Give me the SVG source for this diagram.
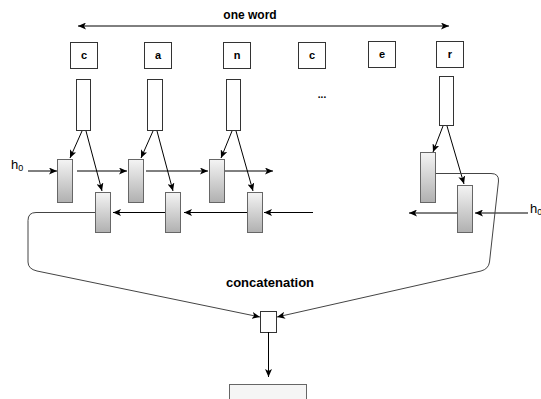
<svg xmlns="http://www.w3.org/2000/svg" width="541" height="399" viewBox="0 0 541 399">
<style>
.box{fill:#fff;stroke:#333;stroke-width:1}
.cell{fill:url(#g);stroke:#666;stroke-width:1}
.lbl{font-family:"Liberation Sans",Arial,sans-serif;font-weight:bold;fill:#000;text-anchor:middle}
.h{font-family:"Liberation Sans",Arial,sans-serif;font-size:13px;fill:#000}
.ar{fill:none;stroke:#000;stroke-width:1;marker-end:url(#a)}
.cv{fill:none;stroke:#444;stroke-width:1;marker-end:url(#a)}
</style>
<defs>
<linearGradient id="g" x1="0" y1="0" x2="0" y2="1">
<stop offset="0" stop-color="#f4f4f4"/>
<stop offset="1" stop-color="#b0b0b0"/>
</linearGradient>
<marker id="a" viewBox="0 0 8 7" refX="8" refY="3.5" markerWidth="8" markerHeight="7" markerUnits="userSpaceOnUse" orient="auto-start-reverse">
<path d="M0,0 L8,3.5 L0,7 L2,3.5 z" fill="#000"/>
</marker>
</defs>
<rect width="541" height="399" fill="#fff"/>

<g id="span">
<line x1="78" y1="26" x2="449" y2="26" stroke="#000" stroke-width="1" marker-start="url(#a)" marker-end="url(#a)"/>
<text class="lbl" x="250" y="19" font-size="12">one word</text>
</g>

<g id="char-c1"><rect class="box" x="70.5" y="42.5" width="27" height="26"/><text class="lbl" x="84" y="59" font-size="11">c</text></g>
<g id="char-a"><rect class="box" x="144.5" y="42.5" width="27" height="26"/><text class="lbl" x="158" y="59" font-size="11">a</text></g>
<g id="char-n"><rect class="box" x="223.5" y="42.5" width="27" height="26"/><text class="lbl" x="237" y="59" font-size="11">n</text></g>
<g id="char-c2"><rect class="box" x="298.5" y="42.5" width="27" height="26"/><text class="lbl" x="312" y="59" font-size="11">c</text></g>
<g id="char-e"><rect class="box" x="368.5" y="41.5" width="27" height="26"/><text class="lbl" x="382" y="58" font-size="11">e</text></g>
<g id="char-r"><rect class="box" x="436.5" y="41.5" width="27" height="26"/><text class="lbl" x="450" y="58" font-size="11">r</text></g>

<g id="emb-c"><rect class="box" x="76.5" y="79.5" width="14" height="51"/></g>
<g id="emb-a"><rect class="box" x="147.5" y="79.5" width="15" height="51"/></g>
<g id="emb-n"><rect class="box" x="226.5" y="79.5" width="14" height="51"/></g>
<g id="emb-r"><rect class="box" x="439.5" y="76.5" width="14" height="49"/></g>

<g id="dots"><text class="lbl" x="322" y="98" font-size="10">...</text></g>

<g id="fw-c"><rect class="cell" x="57.5" y="159.5" width="15" height="43"/></g>
<g id="fw-a"><rect class="cell" x="128.5" y="159.5" width="15" height="43"/></g>
<g id="fw-n"><rect class="cell" x="209.5" y="159.5" width="15" height="43"/></g>
<g id="fw-r"><rect class="cell" x="420.5" y="152.5" width="15" height="50"/></g>

<g id="bw-c"><rect class="cell" x="95.5" y="192.5" width="15" height="40"/></g>
<g id="bw-a"><rect class="cell" x="165.5" y="192.5" width="15" height="40"/></g>
<g id="bw-n"><rect class="cell" x="247.5" y="192.5" width="15" height="40"/></g>
<g id="bw-r"><rect class="cell" x="457.5" y="185.5" width="15" height="47"/></g>

<g id="h0-left"><text class="h" x="11" y="169">h<tspan font-size="9" dy="2">0</tspan></text></g>
<g id="h0-right"><text class="h" x="530" y="213">h<tspan font-size="9" dy="2">0</tspan></text></g>

<g id="concat"><rect class="box" x="260.5" y="311.5" width="16" height="21" stroke="#000"/></g>
<g id="concat-label"><text class="lbl" x="270" y="287" font-size="13">concatenation</text></g>
<g id="output"><rect x="229.5" y="384.5" width="77" height="20" fill="#f5f5f5" stroke="#666"/></g>

<g id="connectors">
<line class="ar" x1="28" y1="171" x2="57" y2="171"/>
<line class="ar" x1="77" y1="171" x2="127" y2="171"/>
<line class="ar" x1="146" y1="171" x2="208" y2="171"/>
<line class="ar" x1="225" y1="171" x2="273" y2="171"/>

<line class="ar" x1="165" y1="212.5" x2="113" y2="212.5"/>
<line class="ar" x1="247" y1="212.5" x2="184" y2="212.5"/>
<line class="ar" x1="313" y1="212.5" x2="264" y2="212.5"/>
<line class="ar" x1="457" y1="213" x2="409" y2="213"/>
<line class="ar" x1="528" y1="213" x2="475" y2="213"/>

<line class="ar" x1="82" y1="131" x2="70" y2="158"/>
<line class="ar" x1="86" y1="131" x2="102" y2="191"/>
<line class="ar" x1="153" y1="131" x2="141" y2="158"/>
<line class="ar" x1="157" y1="131" x2="173" y2="191"/>
<line class="ar" x1="232" y1="131" x2="221" y2="158"/>
<line class="ar" x1="236" y1="131" x2="253" y2="191"/>
<line class="ar" x1="443" y1="126" x2="433" y2="152"/>
<line class="ar" x1="447" y1="126" x2="464" y2="184"/>

<path class="cv" d="M95,212.5 H36 Q28,212.5 28,220.5 V262 Q28,269 37,271 L260,317"/>
<path class="cv" d="M436,173.5 H491 Q499,173.5 498.5,181 L489.5,262 Q488.5,269 481,271 L277,317"/>
<line class="ar" x1="268.5" y1="332" x2="268.5" y2="377"/>
</g>
</svg>
